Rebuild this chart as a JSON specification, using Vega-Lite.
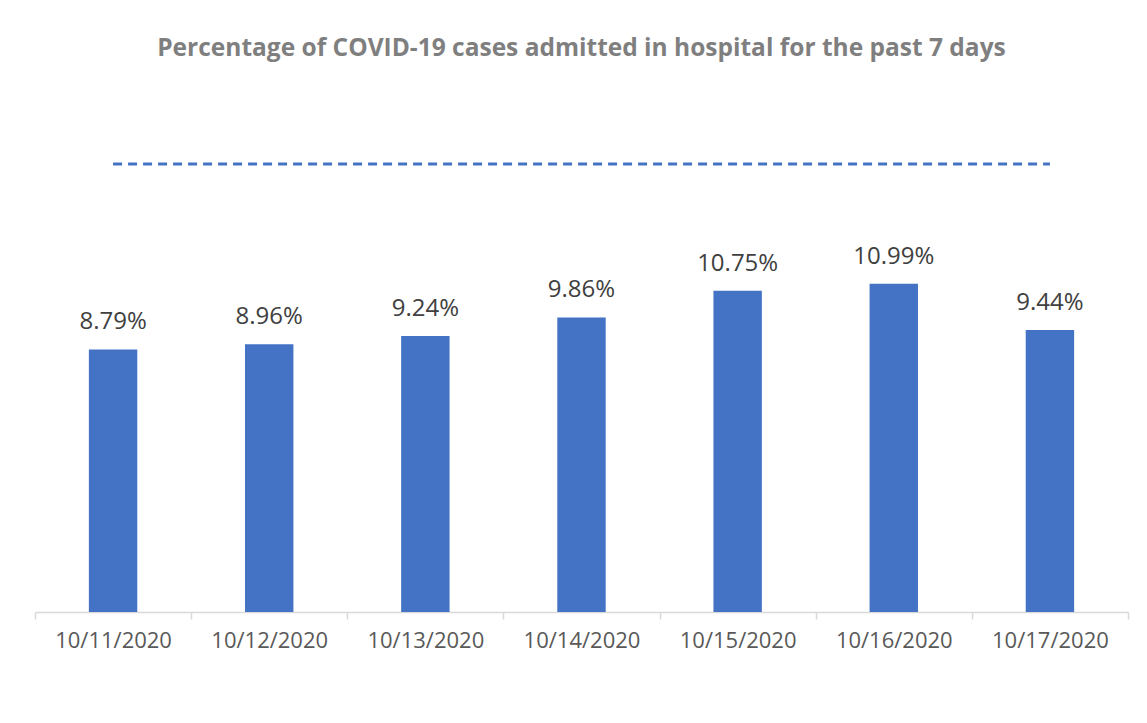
{
  "$schema": "https://vega.github.io/schema/vega-lite/v6.json",
  "autosize": "none",
  "width": 1093,
  "height": 478,
  "padding": {"left": 35, "top": 134, "right": 19, "bottom": 111},
  "background": "white",
  "title": {
    "text": "Percentage of COVID-19 cases admitted in hospital for the past 7 days",
    "font": "Open Sans",
    "fontSize": 24.5,
    "fontWeight": "bold",
    "color": "#7f7f7f",
    "anchor": "middle",
    "offset": 73
  },
  "data": {
    "values": [
      {"date": "10/11/2020", "pct": 0.0879, "threshold": 0.15},
      {"date": "10/12/2020", "pct": 0.0896, "threshold": 0.15},
      {"date": "10/13/2020", "pct": 0.0924, "threshold": 0.15},
      {"date": "10/14/2020", "pct": 0.0986, "threshold": 0.15},
      {"date": "10/15/2020", "pct": 0.1075, "threshold": 0.15},
      {"date": "10/16/2020", "pct": 0.1099, "threshold": 0.15},
      {"date": "10/17/2020", "pct": 0.0944, "threshold": 0.15}
    ]
  },
  "encoding": {
    "x": {
      "field": "date",
      "type": "nominal",
      "sort": null,
      "scale": {"paddingInner": 0, "paddingOuter": 0},
      "axis": {
        "title": null,
        "labelAngle": 0,
        "labelFont": "Open Sans",
        "labelFontSize": 22,
        "labelColor": "#595959",
        "labelPadding": 11,
        "domainColor": "#d9d9d9",
        "domainWidth": 1.5,
        "tickColor": "#d9d9d9",
        "tickWidth": 1.5,
        "tickSize": 7,
        "tickBand": "extent",
        "grid": false
      }
    }
  },
  "layer": [
    {
      "mark": {"type": "bar", "color": "#4472C4", "width": {"band": 0.31}},
      "encoding": {
        "y": {
          "field": "pct",
          "type": "quantitative",
          "scale": {"domain": [0, 0.16], "nice": false},
          "axis": null
        }
      }
    },
    {
      "mark": {"type": "text", "baseline": "alphabetic", "dy": -20, "font": "Open Sans", "fontSize": 24, "color": "#404040"},
      "encoding": {
        "y": {"field": "pct", "type": "quantitative"},
        "text": {"field": "pct", "type": "quantitative", "format": ".2%"}
      }
    },
    {
      "mark": {"type": "line", "color": "#4472C4", "strokeWidth": 3, "strokeDash": [9, 6], "strokeCap": "butt"},
      "encoding": {
        "y": {"field": "threshold", "type": "quantitative"}
      }
    }
  ],
  "config": {"view": {"stroke": null}}
}
